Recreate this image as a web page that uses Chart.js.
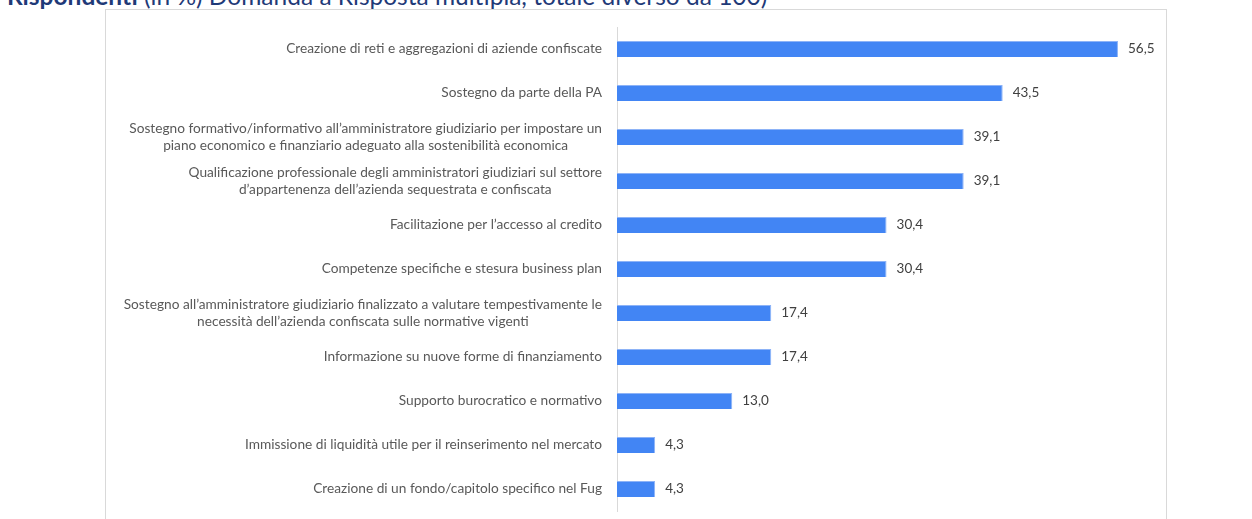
<!DOCTYPE html>
<html lang="it">
<head>
<meta charset="utf-8">
<title>Interventi di supporto</title>
<script src="https://cdn.jsdelivr.net/npm/chart.js@4/dist/chart.umd.min.js"></script>
<style>
  html, body { margin: 0; padding: 0; background: #fff; overflow: hidden; }
  body { width: 1252px; height: 519px; position: relative; }
  #titolo {
    position: absolute; left: 7px; top: -16px; margin: 0;
    font: 24.5px/24.5px Lato, "Open Sans", sans-serif; color: #1f3a78; white-space: nowrap;
  }
  #titolo b { font-weight: 700; }
  #riquadro {
    position: absolute; left: 105px; top: 9px; width: 1062px; height: 540px;
    border: 1px solid #d9d9d9; box-sizing: border-box;
  }
  #grafico { position: absolute; left: 0; top: 0; }
</style>
</head>
<body>
<p id="titolo"><b>Rispondenti</b> (in %) Domanda a Risposta multipla, totale diverso da 100)</p>
<div id="riquadro"></div>
<canvas id="grafico" width="1252" height="519"></canvas>
<script>
// voci (le etichette lunghe sono spezzate su due righe)
var voci = [
  ['Creazione di reti e aggregazioni di aziende confiscate'],
  ['Sostegno da parte della PA'],
  ['Sostegno formativo/informativo all\u2019amministratore giudiziario per impostare un',
   'piano economico e finanziario adeguato alla sostenibilità economica'],
  ['Qualificazione professionale degli amministratori giudiziari sul settore',
   'd\u2019appartenenza dell\u2019azienda sequestrata e confiscata'],
  ['Facilitazione per l\u2019accesso al credito'],
  ['Competenze specifiche e stesura business plan'],
  ['Sostegno all\u2019amministratore giudiziario finalizzato a valutare tempestivamente le',
   'necessità dell\u2019azienda confiscata sulle normative vigenti'],
  ['Informazione su nuove forme di finanziamento'],
  ['Supporto burocratico e normativo'],
  ['Immissione di liquidità utile per il reinserimento nel mercato'],
  ['Creazione di un fondo/capitolo specifico nel Fug']
];

var percentuali = [56.5, 43.5, 39.1, 39.1, 30.4, 30.4, 17.4, 17.4, 13.0, 4.3, 4.3];

var FONT = 'Lato, "Open Sans", sans-serif';

// etichette delle categorie: blocco allineato a destra, righe centrate tra loro
var etichetteVoci = {
  id: 'etichetteVoci',
  afterDraw: function(chart) {
    var ctx = chart.ctx;
    var scala = chart.scales.y;
    var destra = chart.chartArea.left - 15;
    var interlinea = 17;
    ctx.save();
    ctx.font = '13.7px ' + FONT;
    ctx.fillStyle = '#595959';
    ctx.textAlign = 'center';
    ctx.textBaseline = 'middle';
    voci.forEach(function(righe, i) {
      var y = scala.getPixelForValue(i);
      var larg = 0;
      righe.forEach(function(r) { larg = Math.max(larg, ctx.measureText(r).width); });
      var cx = destra - larg / 2;
      var y0 = y - (righe.length - 1) * interlinea / 2;
      righe.forEach(function(r, k) { ctx.fillText(r, cx, y0 + k * interlinea); });
    });
    ctx.restore();
  }
};

// valori in fondo alle barre, con la virgola decimale
var valoriBarre = {
  id: 'valoriBarre',
  afterDatasetsDraw: function(chart) {
    var ctx = chart.ctx;
    var meta = chart.getDatasetMeta(0);
    ctx.save();
    ctx.font = '13.5px ' + FONT;
    ctx.fillStyle = '#404040';
    ctx.textAlign = 'left';
    ctx.textBaseline = 'middle';
    meta.data.forEach(function(barra, i) {
      var testo = percentuali[i].toFixed(1).replace('.', ',');
      ctx.fillText(testo, barra.x + 10, barra.y);
    });
    ctx.restore();
  }
};

new Chart(document.getElementById('grafico'), {
  type: 'bar',
  data: {
    labels: voci,
    datasets: [{
      data: percentuali,
      backgroundColor: '#4285f4',
      borderColor: '#8db3f7',
      borderWidth: { top: 1, right: 1, bottom: 0, left: 0 },
      barPercentage: 0.45,
      categoryPercentage: 0.8
    }]
  },
  options: {
    indexAxis: 'y',
    responsive: false,
    animation: false,
    layout: { padding: { top: 27, bottom: 8, right: 103, left: 0 } },
    plugins: {
      legend: { display: false },
      tooltip: { enabled: false }
    },
    scales: {
      x: { display: false, min: 0, max: 60 },
      y: {
        grid: { display: false },
        border: { display: true, color: '#d9d9d9', width: 1 },
        ticks: { display: false },
        afterFit: function(scala) { scala.width = 617; }
      }
    }
  },
  plugins: [etichetteVoci, valoriBarre]
});
</script>
</body>
</html>
